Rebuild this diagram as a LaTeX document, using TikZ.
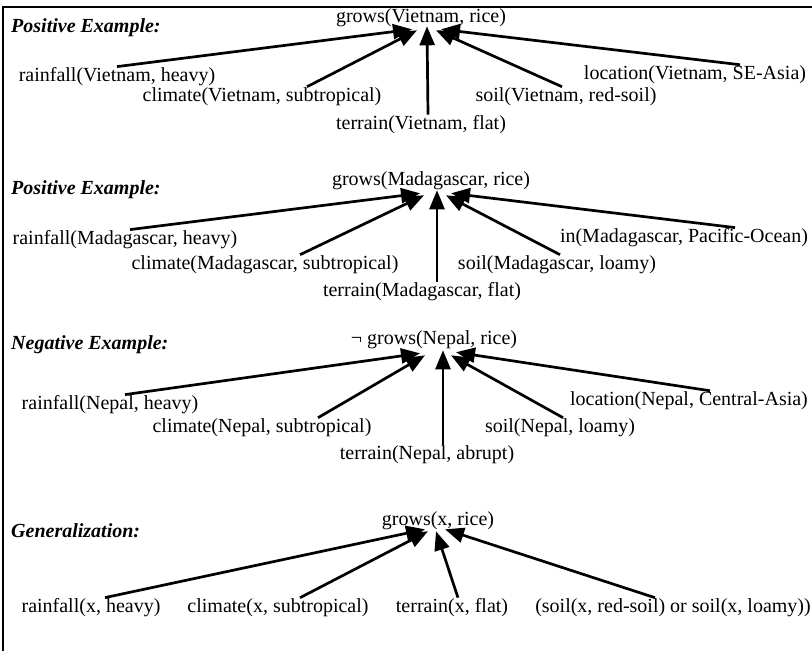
\documentclass[tikz,border=0pt]{standalone}
\usepackage{fontspec}
\setmainfont{Liberation Serif}
\usetikzlibrary{arrows.meta, positioning}

\begin{document}
\begin{tikzpicture}[x=1pt, y=-1pt,
    fact/.style={inner sep=1pt, font=\fontsize{20}{24}\selectfont},
    tag/.style={inner sep=1pt, anchor=west, font=\fontsize{20}{24}\selectfont\bfseries\itshape},
    link/.style={-{Triangle[length=19pt,width=15pt]}, line width=2.7pt}]
    \useasboundingbox (0,0) rectangle (812,651);
    \draw[line width=2.2pt] (3,651) -- (3,7) -- (812,7);

    % first positive example
    \node[tag] (p1) at (10,28) {Positive Example:};
    \node[fact] (g1) at (421,18) {grows(Vietnam, rice)};
    \node[fact] (r1) at (117,77) {rainfall(Vietnam, heavy)};
    \node[fact] (c1) at (262,97) {climate(Vietnam, subtropical)};
    \node[fact] (t1) at (421,125) {terrain(Vietnam, flat)};
    \node[fact] (s1) at (566,97) {soil(Vietnam, red-soil)};
    \node[fact] (l1) at (695,75) {location(Vietnam, SE-Asia)};
    \draw (r1.north) edge[link] ([xshift=-9,yshift=-1]g1.south);
    \draw ([xshift=45]c1.north) edge[link] ([xshift=-4,yshift=-2]g1.south);
    \draw ([xshift=7]t1.north) edge[link] ([xshift=6,yshift=2]g1.south);
    \draw ([xshift=-4]s1.north) edge[link] ([xshift=15,yshift=-2]g1.south);
    \draw ([xshift=45]l1.north) edge[link] ([xshift=20,yshift=-1]g1.south);

    % second positive example
    \node[tag] (p2) at (10,190) {Positive Example:};
    \node[fact] (g2) at (431,181) {grows(Madagascar, rice)};
    \node[fact] (r2) at (125,240) {rainfall(Madagascar, heavy)};
    \node[fact] (c2) at (265,265) {climate(Madagascar, subtropical)};
    \node[fact] (t2) at (422,292) {terrain(Madagascar, flat)};
    \node[fact] (s2) at (557,265) {soil(Madagascar, loamy)};
    \node[fact] (i2) at (684,238) {in(Madagascar, Pacific-Ocean)};
    \draw ([xshift=5]r2.north) edge[link] ([xshift=-11,yshift=-2]g2.south);
    \draw ([xshift=35]c2.north) edge[link] ([xshift=-7,yshift=-4]g2.south);
    \draw ([xshift=15]t2.north) edge[link] ([xshift=6,yshift=1]g2.south);
    \draw ([xshift=3]s2.north) edge[link] ([xshift=15,yshift=-4]g2.south);
    \draw ([xshift=51]i2.north) edge[link] ([xshift=20,yshift=-2]g2.south);

    % negative example
    \node[tag] (n3) at (10,345) {Negative Example:};
    \node[fact] (g3) at (434,340) {¬ grows(Nepal, rice)};
    \node[fact] (r3) at (110,405) {rainfall(Nepal, heavy)};
    \node[fact] (c3) at (262,428) {climate(Nepal, subtropical)};
    \node[fact] (t3) at (427,455) {terrain(Nepal, abrupt)};
    \node[fact] (s3) at (560,428) {soil(Nepal, loamy)};
    \node[fact] (l3) at (689,401) {location(Nepal, Central-Asia)};
    \draw ([xshift=15]r3.north) edge[link] ([xshift=-14,yshift=-3]g3.south);
    \draw ([xshift=56]c3.north) edge[link] ([xshift=-9,yshift=-5]g3.south);
    \draw ([xshift=16]t3.north) edge[link] ([xshift=9,yshift=0]g3.south);
    \draw ([xshift=3]s3.north) edge[link] ([xshift=17,yshift=-5]g3.south);
    \draw ([xshift=21]l3.north) edge[link] ([xshift=22,yshift=-2]g3.south);

    % generalization
    \node[tag] (h4) at (10,531) {Generalization:};
    \node[fact] (g4) at (438,521) {grows(x, rice)};
    \node[fact] (r4) at (91,608) {rainfall(x, heavy)};
    \node[fact] (c4) at (278,608) {climate(x, subtropical)};
    \node[fact] (t4) at (452,608) {terrain(x, flat)};
    \node[fact] (s4) at (673,608) {(soil(x, red-soil) or soil(x, loamy))};
    \draw ([xshift=14]r4.north) edge[link] ([xshift=-13,yshift=2]g4.south);
    \draw ([xshift=22]c4.north) edge[link] ([xshift=-10,yshift=0]g4.south);
    \draw ([xshift=6]t4.north) edge[link] ([xshift=-2,yshift=0]g4.south);
    \draw ([xshift=-18]s4.north) edge[link] ([xshift=7,yshift=2]g4.south);
\end{tikzpicture}
\end{document}
